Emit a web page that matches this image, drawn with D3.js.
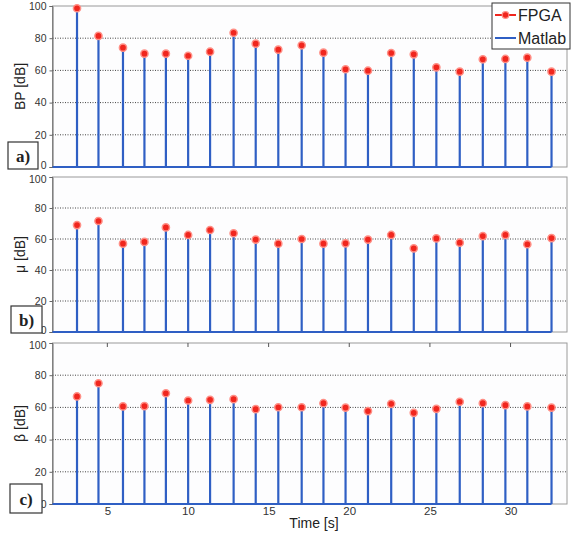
<!DOCTYPE html>
<html>
<head>
<meta charset="utf-8">
<script src="https://cdn.jsdelivr.net/npm/d3@7"></script>
<style>
  body { margin: 0; background: #fff; }
  svg { display: block; font-family: Arial, "Liberation Sans", sans-serif; }
</style>
</head>
<body>
<svg id="chart" width="572" height="533"></svg>
<script>
// Stem plot: FPGA vs Matlab, three stacked panels (BP, mu, beta)

// data
const times = [3.12, 4.45, 5.97, 7.30, 8.63, 10.01, 11.37, 12.83, 14.2, 15.6, 17.05,
  18.4, 19.77, 21.16, 22.6, 24.0, 25.4, 26.85, 28.28, 29.68, 31.04, 32.54];
const bpValues = [98.6, 81.4, 74.1, 70.4, 70.4, 69.1, 71.6, 83.4, 76.6, 72.9, 75.6,
  71.0, 60.7, 59.8, 70.8, 70.0, 61.9, 59.2, 66.9, 67.1, 67.9, 59.2];
const muValues = [69.0, 71.6, 57.0, 58.1, 67.5, 62.6, 65.8, 63.7, 59.6, 57.0, 60.0,
  57.0, 57.2, 59.6, 62.6, 54.0, 60.4, 57.6, 61.9, 62.6, 56.6, 60.6];
const betaValues = [66.8, 75.0, 60.6, 60.8, 68.8, 64.3, 64.7, 65.1, 58.9, 60.1, 60.1,
  62.6, 59.9, 57.7, 62.2, 56.6, 59.1, 63.5, 62.6, 61.4, 60.6, 59.9];
const yTicks = [0, 20, 40, 60, 80, 100];
const xTicks = [5, 10, 15, 20, 25, 30];
const legendItems = ["FPGA", "Matlab"];

const panels = [
  { values: bpValues, label: "BP [dB]", tag: "a)", top: 6, bottom: 167, box: [8, 142, 30, 27] },
  { values: muValues, label: "\u03bc [dB]", tag: "b)", top: 177, bottom: 332, box: [11, 306, 31, 27] },
  { values: betaValues, label: "\u03b2 [dB]", tag: "c)", top: 343, bottom: 504, box: [10, 484, 32, 29] }
];

const left = 52.5, right = 567;
const stemColor = "#2f5fc4";
const dotColor = "#f0261e";

const svg = d3.select("#chart");

const x = d3.scaleLinear().domain([1.6, 33.5]).range([left, right]);

panels.forEach((p, i) => {
  const y = d3.scaleLinear().domain([0, 100]).range([p.bottom, p.top]);
  const g = svg.append("g");

  // background + frame
  g.append("rect")
    .attr("x", left).attr("y", p.top)
    .attr("width", right - left).attr("height", p.bottom - p.top)
    .attr("fill", "#fdfdfe")
    .attr("stroke", "#9a9a9a").attr("stroke-width", 1);

  // grid lines
  g.selectAll(".grid")
    .data(yTicks.filter(d => d > 0 && d < 100))
    .join("line")
      .attr("x1", left).attr("x2", right)
      .attr("y1", d => y(d)).attr("y2", d => y(d))
      .attr("stroke", "#444").attr("stroke-width", 1)
      .attr("stroke-dasharray", "1,1.5");

  // y axis
  const yAxis = d3.axisLeft(y).tickValues(yTicks).tickSize(3).tickPadding(3);
  const ya = g.append("g")
    .attr("transform", `translate(${left},0)`)
    .call(yAxis);
  ya.select(".domain").attr("stroke", "#666");
  ya.selectAll(".tick line").attr("stroke", "#666");
  ya.selectAll("text")
    .attr("font-size", 10.5).attr("fill", "#333")
    .attr("y", d => (d === 0 && i < 2) ? -1.5 : (d === 100 && i > 0 ? 2 : 0));

  // x ticks (top and bottom of last panel)
  if (i === 2) {
    g.selectAll(".xt-top")
      .data(xTicks)
      .join("line")
        .attr("x1", d => x(d)).attr("x2", d => x(d))
        .attr("y1", p.top).attr("y2", p.top + 4)
        .attr("stroke", "#555");
    const xAxis = d3.axisBottom(x).tickValues(xTicks).tickSize(0).tickPadding(3);
    const xa = g.append("g")
      .attr("transform", `translate(0,${p.bottom})`)
      .call(xAxis);
    xa.select(".domain").remove();
    xa.selectAll("text").attr("font-size", 11.5).attr("fill", "#333");
    g.append("text")
      .attr("x", 314).attr("y", 528)
      .attr("text-anchor", "middle")
      .attr("font-size", 14).attr("fill", "#222")
      .text("Time [s]");
  }

  // y label
  g.append("text")
    .attr("transform", `translate(25,${(p.top + p.bottom) / 2}) rotate(-90)`)
    .attr("text-anchor", "middle")
    .attr("font-size", 14).attr("fill", "#222")
    .text(p.label);

  // panel tag box
  g.append("rect")
    .attr("x", p.box[0]).attr("y", p.box[1])
    .attr("width", p.box[2]).attr("height", p.box[3])
    .attr("fill", "#fff").attr("stroke", "#333").attr("stroke-width", 1.2);
  g.append("text")
    .attr("x", p.box[0] + p.box[2] / 2).attr("y", p.box[1] + p.box[3] / 2 + 6)
    .attr("text-anchor", "middle")
    .attr("font-family", "'Liberation Serif', 'Times New Roman', serif")
    .attr("font-weight", "bold").attr("font-size", 17).attr("fill", "#222")
    .text(p.tag);

  // baseline
  g.append("line")
    .attr("x1", left).attr("x2", x(times[times.length - 1]))
    .attr("y1", y(0)).attr("y2", y(0))
    .attr("stroke", stemColor).attr("stroke-width", 2);

  const pts = times.map((t, k) => ({ t, v: p.values[k] }));

  // stems
  g.selectAll(".stem")
    .data(pts)
    .join("line")
      .attr("x1", d => x(d.t)).attr("x2", d => x(d.t))
      .attr("y1", y(0)).attr("y2", d => y(d.v))
      .attr("stroke", stemColor).attr("stroke-width", 2.2);

  // FPGA markers
  g.selectAll(".dot")
    .data(pts)
    .join("circle")
      .attr("cx", d => x(d.t)).attr("cy", d => y(d.v))
      .attr("r", 3.6)
      .attr("fill", dotColor)
      .attr("stroke", "#ff8f86").attr("stroke-width", 1.5);
});

// legend
const lg = svg.append("g");
lg.append("rect")
  .attr("x", 492).attr("y", 3).attr("width", 78).attr("height", 46)
  .attr("fill", "#fff").attr("stroke", "#333").attr("stroke-width", 1);
legendItems.forEach((name, k) => {
  const ly = 15 + k * 23;
  const color = k === 0 ? dotColor : stemColor;
  lg.append("line")
    .attr("x1", 495).attr("x2", 516).attr("y1", ly).attr("y2", ly)
    .attr("stroke", color).attr("stroke-width", 2);
  if (k === 0) {
    lg.append("circle")
      .attr("cx", 505.5).attr("cy", ly).attr("r", 3.3)
      .attr("fill", dotColor).attr("stroke", "#ff8f86").attr("stroke-width", 1.2);
  }
  lg.append("text")
    .attr("x", 518).attr("y", ly + 6)
    .attr("font-size", 16).attr("fill", "#222")
    .text(name);
});
</script>
</body>
</html>
